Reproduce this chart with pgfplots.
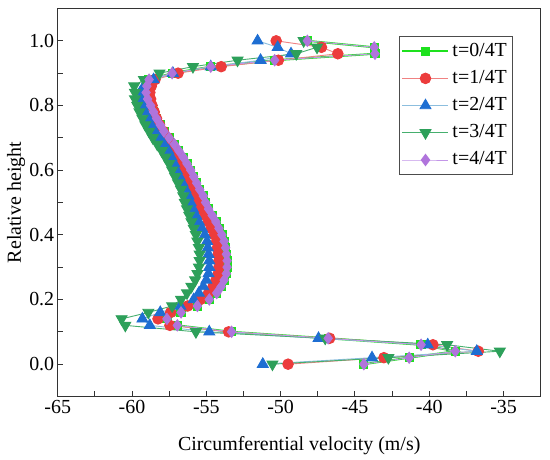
\documentclass[border=0pt]{standalone}
\usepackage{fontspec}
\setmainfont{Liberation Serif}
\usepackage{pgfplots}
\pgfplotsset{compat=1.18}
\definecolor{cA}{RGB}{30,225,30}
\definecolor{cB}{RGB}{236,60,60}
\definecolor{cBl}{RGB}{240,130,130}
\definecolor{cC}{RGB}{30,110,210}
\definecolor{cCl}{RGB}{140,190,222}
\definecolor{cD}{RGB}{45,160,90}
\definecolor{cDl}{RGB}{70,175,110}
\definecolor{cE}{RGB}{176,116,220}
\definecolor{cEl}{RGB}{195,150,232}
\pgfplotstableread{
x y
-44.4 0.00
-41.35 0.02
-38.25 0.04
-40.55 0.06
-46.8 0.08
-53.3 0.10
-56.95 0.12
-57.65 0.14
-56.7 0.16
-55.6 0.18
-54.8 0.20
-54.3 0.22
-54.0 0.24
-53.8 0.26
-53.65 0.28
-53.6 0.30
-53.6 0.32
-53.65 0.34
-53.7 0.36
-53.8 0.38
-53.95 0.40
-54.15 0.42
-54.35 0.44
-54.6 0.46
-54.85 0.48
-55.05 0.50
-55.2 0.52
-55.45 0.54
-55.65 0.56
-55.85 0.58
-56.05 0.60
-56.3 0.62
-56.55 0.64
-56.85 0.66
-57.15 0.68
-57.5 0.70
-57.85 0.72
-58.1 0.74
-58.35 0.76
-58.55 0.78
-58.75 0.80
-58.95 0.82
-59.05 0.84
-59.0 0.86
-58.85 0.88
-57.3 0.90
-54.7 0.92
-50.4 0.94
-43.65 0.96
-43.7 0.98
-48.2 1.00
}\tP
\pgfplotstableread{
x y
-49.5 0.00
-43.05 0.02
-36.7 0.04
-39.75 0.06
-46.7 0.08
-53.5 0.10
-57.45 0.12
-58.25 0.14
-57.4 0.16
-56.25 0.18
-55.4 0.20
-54.85 0.22
-54.55 0.24
-54.35 0.26
-54.2 0.28
-54.15 0.30
-54.15 0.32
-54.2 0.34
-54.25 0.36
-54.3 0.38
-54.45 0.40
-54.65 0.42
-54.85 0.44
-55.1 0.46
-55.35 0.48
-55.55 0.50
-55.75 0.52
-55.95 0.54
-56.1 0.56
-56.3 0.58
-56.45 0.60
-56.65 0.62
-56.85 0.64
-57.05 0.66
-57.3 0.68
-57.6 0.70
-57.9 0.72
-58.15 0.74
-58.35 0.76
-58.5 0.78
-58.65 0.80
-58.75 0.82
-58.8 0.84
-58.7 0.86
-58.45 0.88
-56.9 0.90
-54.0 0.92
-50.15 0.94
-46.15 0.96
-47.25 0.98
-50.3 1.00
}\tR
\pgfplotstableread{
x y
-51.2 0.00
-43.85 0.02
-36.8 0.04
-40.1 0.06
-47.45 0.08
-54.8 0.10
-58.8 0.12
-59.3 0.14
-58.1 0.16
-56.75 0.18
-55.85 0.20
-55.5 0.22
-55.2 0.24
-55.0 0.26
-54.85 0.28
-54.8 0.30
-54.8 0.32
-54.85 0.34
-54.9 0.36
-54.95 0.38
-55.1 0.40
-55.3 0.42
-55.5 0.44
-55.7 0.46
-55.9 0.48
-56.05 0.50
-56.2 0.52
-56.4 0.54
-56.6 0.56
-56.8 0.58
-57.0 0.60
-57.15 0.62
-57.35 0.64
-57.55 0.66
-57.85 0.68
-58.15 0.70
-58.45 0.72
-58.7 0.74
-58.9 0.76
-59.1 0.78
-59.25 0.80
-59.4 0.82
-59.45 0.84
-59.2 0.86
-58.55 0.88
-57.25 0.90
-54.7 0.92
-51.35 0.94
-49.3 0.96
-50.2 0.98
-51.55 1.00
}\tB
\pgfplotstableread{
x y
-50.55 0.00
-42.75 0.02
-35.25 0.04
-38.8 0.06
-47.0 0.08
-55.7 0.10
-60.45 0.12
-60.7 0.14
-58.9 0.16
-57.3 0.18
-56.7 0.20
-56.3 0.22
-56.0 0.24
-55.75 0.26
-55.6 0.28
-55.5 0.30
-55.45 0.32
-55.45 0.34
-55.5 0.36
-55.6 0.38
-55.7 0.40
-55.85 0.42
-56.0 0.44
-56.15 0.46
-56.3 0.48
-56.45 0.50
-56.55 0.52
-56.7 0.54
-56.9 0.56
-57.1 0.58
-57.3 0.60
-57.5 0.62
-57.75 0.64
-58.0 0.66
-58.3 0.68
-58.6 0.70
-58.85 0.72
-59.1 0.74
-59.3 0.76
-59.5 0.78
-59.65 0.80
-59.8 0.82
-59.8 0.84
-59.85 0.86
-59.2 0.88
-58.15 0.90
-55.9 0.92
-52.9 0.94
-48.95 0.96
-47.55 0.98
-48.45 1.00
}\tG
\begin{document}
\begin{tikzpicture}
\path[use as bounding box] (-57.7bp,-63.5bp) rectangle (492.3bp,396.5bp);
\begin{axis}[
  at={(0,0)}, anchor=south west,
  scale only axis, width=483bp, height=388bp,
  xmin=-65, xmax=-32.5, ymin=-0.1, ymax=1.1,
  xtick={-65,-60,-55,-50,-45,-40,-35},
  ytick={0,0.2,0.4,0.6,0.8,1.0},
  minor x tick num=1, minor y tick num=1,
  tick align=inside, major tick length=5bp, minor tick length=5bp,
  xtick pos=bottom, ytick pos=left,
  axis line style={black!80, line width=1.2bp},
  every tick/.style={black!80, line width=1bp},
  font=\fontsize{20}{24}\selectfont,
  /pgf/number format/assume math mode=true,
  yticklabel style={/pgf/number format/.cd, fixed, fixed zerofill, precision=1},
  xticklabel style={/pgf/number format/.cd, fixed},
  xlabel={Circumferential velocity (m/s)},
  ylabel={Relative height},
  xlabel style={at={(axis description cs:0.5,-0.139)}, anchor=base},
  ylabel style={at={(axis description cs:-0.0863,0.5)}, anchor=center, rotate=0},
  legend style={at={(axis description cs:0.9412,0.9286)}, anchor=north east,
    draw=black!70, line width=0.8bp, inner xsep=2bp, inner ysep=1bp,
    row sep=0bp,
    nodes={inner xsep=3bp, inner ysep=4.6bp, text height=14bp, text depth=4bp},
    font=\fontsize{20}{24}\selectfont},
  legend cell align=left,
  legend image code/.code={\draw[mark repeat=2,mark phase=2,#1] plot coordinates {(0bp,0bp) (23bp,0bp) (46bp,0bp)};},
]
\addplot[color=cA, line width=2bp, mark=square*, mark size=3.6bp, mark options={solid, fill=cA, draw=cA}] table {\tP};
\addlegendentry{t=0/4T}
\addplot[color=cBl, line width=0.9bp, mark=*, mark size=5.3bp, mark options={fill=cB, draw=cB}] table {\tR};
\addlegendentry{t=1/4T}
\addplot[color=cCl, line width=0.9bp, mark=triangle*, mark size=6.3bp, mark options={fill=cC, draw=cC}] table {\tB};
\addlegendentry{t=2/4T}
\addplot[color=cDl, line width=0.9bp, mark=triangle*, mark size=6.3bp, mark options={fill=cD, draw=cD, rotate=180}] table {\tG};
\addlegendentry{t=3/4T}
\addplot[color=cEl, line width=0.9bp, mark=diamond*, mark size=5.6bp, mark options={fill=cE, draw=cE}] table {\tP};
\addlegendentry{t=4/4T}
\end{axis}
\end{tikzpicture}
\end{document}
